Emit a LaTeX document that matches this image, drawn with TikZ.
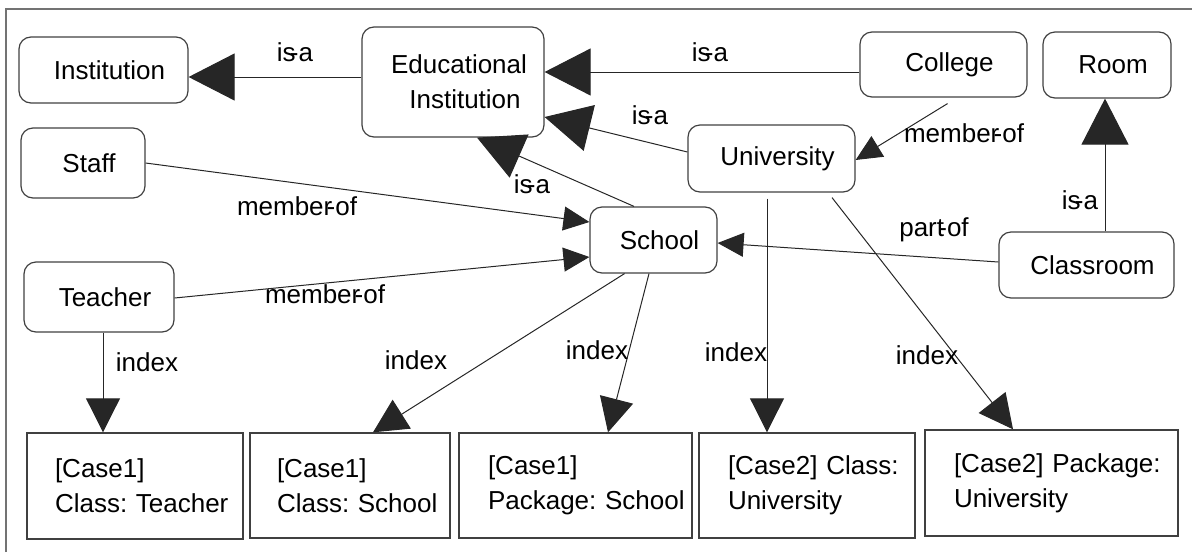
\documentclass[tikz,border=0pt]{standalone}
\usepackage{fontspec}
\setmainfont{Liberation Sans}
\usetikzlibrary{arrows.meta,calc}

% squeezed hyphen for the relation names
\newcommand{\hy}{\kern-.22em-}

\begin{document}
\frenchspacing
\begin{tikzpicture} [x=0.5pt, y=-0.5pt,
				concept/.style={
				% The shape:
				rectangle, rounded corners=6pt,
				% The border:
				draw=black!75, line width=0.6pt,
				% Font
				font=\fontsize{13}{17.5}\selectfont,
				% text sits a little right of the middle
				execute at begin node=\hspace*{6pt}
				},
				casebox/.style={
				% The shape:
				rectangle,
				% The border:
				draw=black!75, line width=0.7pt,
				% The text:
				align=left, inner xsep=0pt,
				font=\fontsize{13}{17.5}\selectfont
				},
				boxsize/.style 2 args={minimum width=#1*0.5pt, minimum height=#2*0.5pt},
				rel/.style={draw=black!85, line width=0.5pt},
				isa/.style={rel, -{Triangle[length=23pt,width=23.5pt]}},
				idx/.style={rel, -{Triangle[length=17pt,width=17pt]}},
				mem/.style={rel, -{Triangle[length=13pt,width=12pt]}},
				lbl/.style={font=\fontsize{13}{15}\selectfont, inner sep=0pt},
				]
    \useasboundingbox (0,0) rectangle (1192,552);
    \draw[black!55, line width=1pt] (6,552) -- (6,9) -- (1192,9);

    % concepts
    \node[concept, boxsize={169}{66}] (inst) at (103.5,70) {Institution};
    \node[concept, boxsize={182}{110}, align=center] (edu) at (453,82)
        {Educational\\\hspace*{6pt}Institution};
    \node[concept, boxsize={167}{65}] (college) at (943.5,64.5) {College};
    \node[concept, boxsize={128}{66}] (room) at (1107,65) {Room};
    \node[concept, boxsize={124}{70}] (staff) at (83,163) {Staff};
    \node[concept, boxsize={167}{67}] (univ) at (771.5,158.5) {University};
    \node[concept, boxsize={127}{66}] (school) at (653.5,240) {School};
    \node[concept, boxsize={150}{70}] (teacher) at (99,297) {Teacher};
    \node[concept, boxsize={175}{66}] (classroom) at (1086.5,265) {Classroom};

    % index targets
    \node[casebox, boxsize={216}{106}, text width=80pt] (c1) at (135,486)
        {\mbox{[Case1]}\\\mbox{Class: Teacher}};
    \node[casebox, boxsize={200}{105}, text width=73pt] (c2) at (350,485.5)
        {\mbox{[Case1]}\\\mbox{Class: School}};
    \node[casebox, boxsize={233}{105}, text width=87.5pt] (c3) at (575.5,485.5)
        {\mbox{[Case1]}\\\mbox{Package: School}};
    \node[casebox, boxsize={216}{105}, text width=79pt] (c4) at (807,485.5)
        {\mbox{[Case2] Class:}\\\mbox{University}};
    \node[casebox, boxsize={253}{106}, text width=97.5pt] (c5) at (1051.5,483)
        {\mbox{[Case2] Package:}\\\mbox{University}};

    % is-a
    \draw[isa] ($(edu.west)+(0,-5)$) -- ($(inst.east)+(0,7)$);
    \draw[isa] ($(college.west)+(0,7.5)$) -- ($(edu.east)+(0,-10)$);
    \draw[isa] ($(univ.west)+(0,-6.5)$) -- ($(edu.east)+(0,35)$);
    \draw[isa] ($(school.north)+(-19.5,0)$) -- ($(edu.south)+(24,0)$);
    \draw[isa] ($(classroom.north)+(18.5,0)$) -- ($(room.south)+(-2,0)$);
    % member-of, part-of
    \draw[mem] ($(college.south)+(4,6)$) -- ($(univ.east)+(0,1.5)$);
    \draw[mem] (staff.east) -- ($(school.west)+(0,-18)$);
    \draw[mem] ($(teacher.east)+(0,1)$) -- ($(school.west)+(0,17)$);
    \draw[mem] ($(classroom.west)+(0,-3)$) -- ($(school.east)+(0,3)$);
    % index
    \draw[idx] ($(teacher.south)+(4,0)$) -- ($(c1.north)+(-32,0)$);
    \draw[idx] ($(school.south)+(-29,0)$) -- ($(c2.north)+(23,0)$);
    \draw[idx] ($(school.south)+(-4.5,0)$) -- ($(c3.north)+(32.5,0)$);
    \draw[idx] ($(univ.south)+(-4.5,6)$) -- ($(c4.north)+(-40,0)$);
    \draw[idx] ($(univ.south)+(60.5,5)$) -- ($(c5.north)+(-38.5,0)$);

    % labels
    \node[lbl] (isa-inst) at (295,52) {is\hy a};
    \node[lbl] (isa-college) at (710,52) {is\hy a};
    \node[lbl] (isa-univ) at (650,115) {is\hy a};
    \node[lbl] (isa-school) at (532,184) {is\hy a};
    \node[lbl] (isa-room) at (1080,200) {is\hy a};
    \node[lbl] (mem-college) at (964,133) {member\hy of};
    \node[lbl] (mem-staff) at (297,206) {member\hy of};
    \node[lbl] (mem-teacher) at (325,294) {member\hy of};
    \node[lbl] (part-class) at (934,230) {part\hy of};
    \node[lbl] (idx-teacher) at (147,362) {index};
    \node[lbl] (idx-school1) at (416,360) {index};
    \node[lbl] (idx-school2) at (597,350) {index};
    \node[lbl] (idx-univ1) at (736,352) {index};
    \node[lbl] (idx-univ2) at (927,355) {index};
\end{tikzpicture}
\end{document}
